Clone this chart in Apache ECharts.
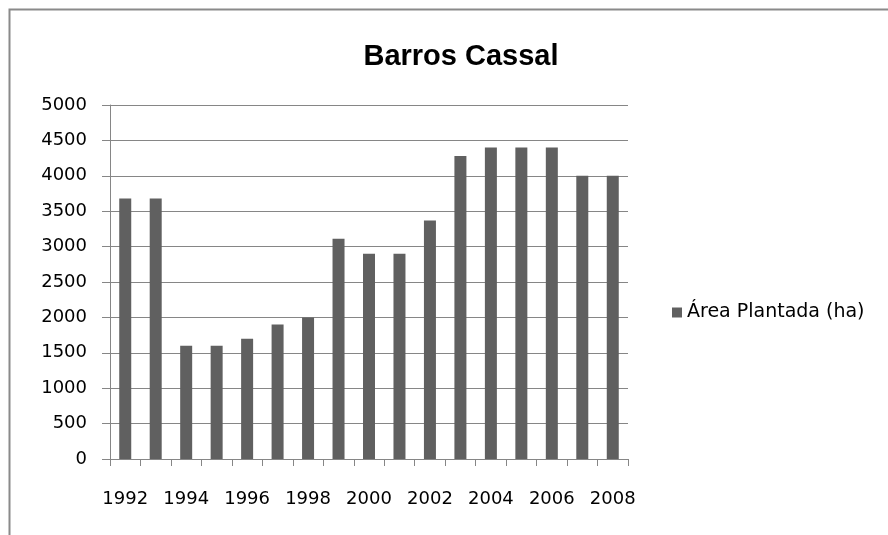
<!DOCTYPE html>
<html>
<head>
<meta charset="utf-8">
<script src="https://cdn.jsdelivr.net/npm/echarts@6/dist/echarts.min.js"></script>
<style>html,body{margin:0;padding:0;background:#fff;}#c{width:888px;height:535px;}</style>
</head>
<body>
<div id="c"></div>
<script>
const titleText = 'Barros Cassal';
const seriesName = 'Área Plantada (ha)';
const years = ['1992','1993','1994','1995','1996','1997','1998','1999','2000','2001','2002','2003','2004','2005','2006','2007','2008'];
const areaPlantada = [3680,3680,1600,1600,1700,1900,2000,3110,2900,2900,3370,4280,4400,4400,4400,4000,4000];
const yMin = 0, yMax = 5000, yStep = 500;

const chart = echarts.init(document.getElementById('c'), null, {renderer:'canvas'});
const axisGrey = '#868686';
chart.setOption({
  backgroundColor: '#ffffff',
  animation: false,
  graphic: [{
    type: 'rect', left: 7, top: 7, shape: {width: 900, height: 600},
    style: {fill: 'none', stroke: '#8a8a8a', lineWidth: 2}, silent: true
  }],
  title: {
    text: titleText, left: 456, textAlign: 'center', top: 37,
    textStyle: {fontFamily: '"Liberation Sans", sans-serif', fontWeight: 'bold', fontSize: 29, color: '#000'}
  },
  legend: {
    data: [seriesName], orient: 'vertical', left: 667, top: 298,
    icon: 'rect', itemWidth: 10, itemHeight: 10, itemGap: 5,
    textStyle: {fontFamily: '"DejaVu Sans", sans-serif', fontSize: 19, color: '#000'}
  },
  grid: {left: 110, right: 260, top: 105, bottom: 76, containLabel: false},
  xAxis: {
    type: 'category', data: years,
    axisLine: {lineStyle: {color: axisGrey, width: 1}},
    axisTick: {show: true, alignWithLabel: false, interval: 0, length: 7, lineStyle: {color: axisGrey}},
    axisLabel: {interval: 1, margin: 31, fontFamily: '"DejaVu Sans", sans-serif', fontSize: 18, color: '#000'},
    splitLine: {show: false}
  },
  yAxis: {
    type: 'value', min: yMin, max: yMax, interval: yStep,
    axisLine: {show: true, lineStyle: {color: axisGrey, width: 1}},
    axisTick: {show: true, length: 8, lineStyle: {color: axisGrey}},
    axisLabel: {margin: 23, fontFamily: '"DejaVu Sans", sans-serif', fontSize: 18, color: '#000',
      formatter: function (v) { return String(v); }},
    splitLine: {show: true, lineStyle: {color: axisGrey, width: 1}}
  },
  series: [{
    name: seriesName, type: 'bar', data: areaPlantada,
    barWidth: 12, itemStyle: {color: '#606060'}
  }]
});
</script>
</body>
</html>
